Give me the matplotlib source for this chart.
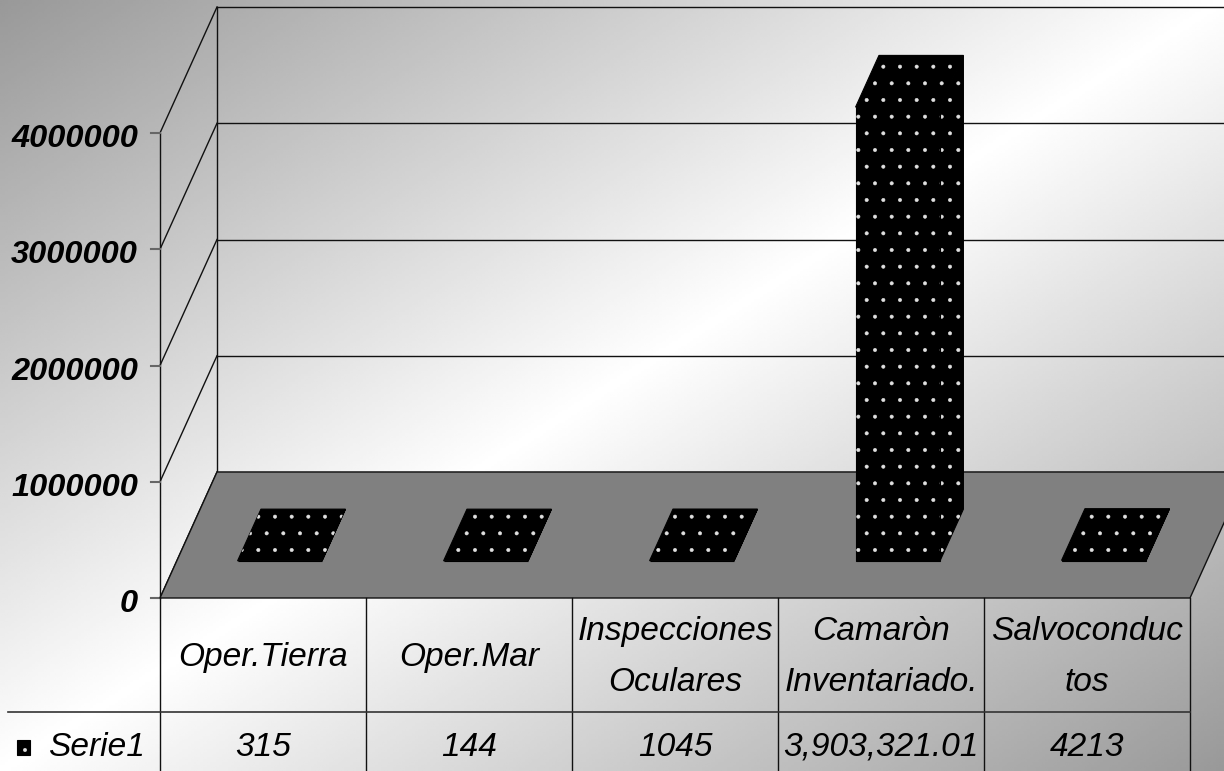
import numpy as np
import matplotlib
matplotlib.use('Agg')
import matplotlib.pyplot as plt
from matplotlib.patches import Polygon
from matplotlib import font_manager

# ---------------- data ----------------
categories = ['Oper.Tierra', 'Oper.Mar', 'Inspecciones\nOculares',
              'Camaròn\nInventariado.', 'Salvoconduc\ntos']
values = [315, 144, 1045, 3903321.01, 4213]
value_labels = ['315', '144', '1045', '3,903,321.01', '4213']
series_name = 'Serie1'
y_ticks = [0, 1000000, 2000000, 3000000, 4000000]
y_tick_labels = ['0', '1000000', '2000000', '3000000', '4000000']

# ---------------- fonts ----------------
names = {f.name for f in font_manager.fontManager.ttflist}
if 'Liberation Sans Narrow' in names:
    FAM, SC, SCA = 'Liberation Sans Narrow', 1.0, 1.0
else:
    FAM, SC, SCA = 'Liberation Sans', 0.86, 0.85

plt.rcParams['hatch.linewidth'] = 0.4

# ---------------- layout (pixels) ----------------
W, H = 1224, 771
PX0, COLW = 160, 206        # front-left x, width per category
PY0, PPM = 598, 116.25      # front zero y, pixels per million
DX, DY = 57, 126            # depth shift of the back wall

fig = plt.figure(figsize=(W / 100, H / 100), dpi=100)

# background gradient
bg = fig.add_axes([0, 0, 1, 1])
bg.axis('off')
xx, yy = np.meshgrid(np.linspace(0, 1, 400), np.linspace(0, 1, 300))
t = xx + yy
g = 1 - 0.40 * np.abs(t - 1)
bg.imshow(g, cmap='gray', vmin=0, vmax=1, aspect='auto',
          extent=[0, 1, 1, 0], interpolation='bilinear')
bg.set_xlim(0, 1); bg.set_ylim(1, 0)

ax = fig.add_axes([0, 0, 1, 1], facecolor='none')
ax.axis('off')
ax.set_xlim(-PX0 / COLW, (W - PX0) / COLW)
ax.set_ylim(-(H - PY0) / PPM * 1e6, PY0 / PPM * 1e6)


def hx(p):
    return p / COLW


def hy(p):
    return p / PPM * 1e6


ddx, ddy = hx(DX), hy(DY)


def P(x, y, z):
    return (x + z * ddx, y + z * ddy)


n = len(categories)
ymax = y_ticks[-1]
LC = '#111111'

# back wall gridlines + side wall diagonals
for tv in y_ticks:
    a, b = P(0, tv, 1), P(n, tv, 1)
    ax.plot([a[0], b[0]], [a[1], b[1]], color=LC, lw=1.0, zorder=2)
    a, b = P(0, tv, 0), P(0, tv, 1)
    ax.plot([a[0], b[0]], [a[1], b[1]], color=LC, lw=1.0, zorder=2)
a, b = P(0, 0, 1), P(0, ymax, 1)
ax.plot([a[0], b[0]], [a[1], b[1]], color=LC, lw=1.0, zorder=2)
a, b = P(0, 0, 0), P(0, ymax, 0)
ax.plot([a[0], b[0]], [a[1], b[1]], color=LC, lw=1.0, zorder=2)

# ticks + labels
for tv, lab in zip(y_ticks, y_tick_labels):
    ax.plot([-hx(9), 0], [tv, tv], color='#666666', lw=1.5, zorder=2)
    ax.text(-hx(22), tv - hy(14), lab, ha='right', va='baseline',
            fontsize=27.5 * SCA, fontweight='bold', fontstyle='italic',
            family=FAM, color='black')

# floor
floor = Polygon([P(0, 0, 0), P(n, 0, 0), P(n, 0, 1), P(0, 0, 1)],
                closed=True, fc='#808080', ec=LC, lw=1.0, zorder=3)
ax.add_patch(floor)


def dotted(poly, z):
    ax.add_patch(Polygon(poly, closed=True, fc='black', ec='black', lw=0.8, zorder=z))
    ax.add_patch(Polygon(poly, closed=True, fc='none', ec='#e0e0e0', lw=0,
                         hatch='.', zorder=z + 0.1))


# bars
BW, Z0, Z1 = 0.41, 0.295, 0.705
for i, v in enumerate(values):
    x0, x1 = i + 0.5 - BW / 2, i + 0.5 + BW / 2
    side = [P(x1, 0, Z0), P(x1, v, Z0), P(x1, v, Z1), P(x1, 0, Z1)]
    front = [P(x0, 0, Z0), P(x1, 0, Z0), P(x1, v, Z0), P(x0, v, Z0)]
    top = [P(x0, v, Z0), P(x1, v, Z0), P(x1, v, Z1), P(x0, v, Z1)]
    dotted(side, 4)
    dotted(front, 4.2)
    dotted(top, 4.4)

# data table
ybot = ax.get_ylim()[0]
for k in range(n + 1):
    ax.plot([k, k], [0, ybot], color=LC, lw=1.0, zorder=5)
ax.plot([-hx(152), n], [-hy(114), -hy(114)], color='#333333', lw=1.2, zorder=5)

tfs = 28 * SC
for i, (cat, vl) in enumerate(zip(categories, value_labels)):
    lines = cat.split('\n')
    if len(lines) == 1:
        ax.text(i + 0.5, -hy(68), lines[0], ha='center', va='baseline',
                fontsize=tfs, fontstyle='italic', family=FAM)
    else:
        for j, ln in enumerate(lines):
            ax.text(i + 0.5, -hy(42 + 51 * j), ln, ha='center', va='baseline',
                    fontsize=tfs, fontstyle='italic', family=FAM)
    ax.text(i + 0.5, -hy(158), vl, ha='center', va='baseline',
            fontsize=tfs, fontstyle='italic', family=FAM)

# legend key in table
key = [(-hx(143), -hy(142)), (-hx(130), -hy(142)),
       (-hx(130), -hy(157)), (-hx(143), -hy(157))]
dotted(key, 6)
ax.text(-hx(112), -hy(158), series_name, ha='left', va='baseline',
        fontsize=tfs, fontstyle='italic', family=FAM)

fig.savefig('out.png', dpi=100)
